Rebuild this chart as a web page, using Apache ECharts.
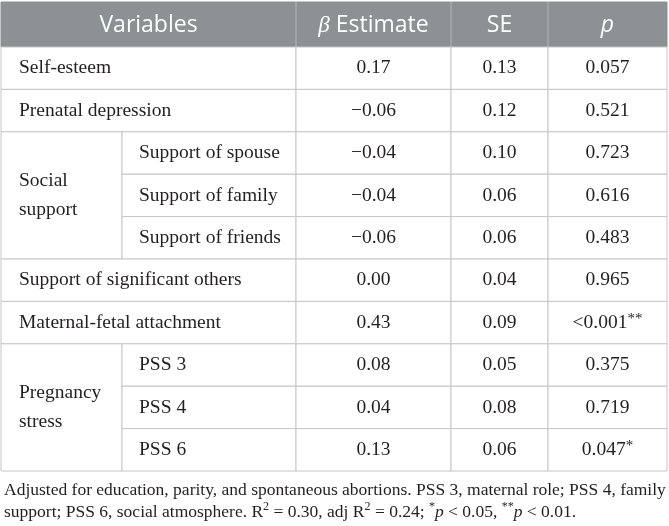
<!DOCTYPE html>
<html>
<head>
<meta charset="utf-8">
<script src="https://cdn.jsdelivr.net/npm/echarts@6/dist/echarts.min.js"></script>
<style>
html, body { margin: 0; padding: 0; background: #fff; }
#chart { width: 669px; height: 526px; }
</style>
</head>
<body>
<div id="chart"></div>
<script>
// table content
const headers = ['Variables', 'β Estimate', 'SE', 'p'];
const groups = ['', '', 'Social\nsupport', 'Social\nsupport', 'Social\nsupport', '', '', 'Pregnancy\nstress', 'Pregnancy\nstress', 'Pregnancy\nstress'];
const labels = ['Self-esteem', 'Prenatal depression', 'Support of spouse', 'Support of family', 'Support of friends',
  'Support of significant others', 'Maternal-fetal attachment', 'PSS 3', 'PSS 4', 'PSS 6'];
const estimates = [0.17, -0.06, -0.04, -0.04, -0.06, 0.00, 0.43, 0.08, 0.04, 0.13];
const ses = [0.13, 0.12, 0.10, 0.06, 0.06, 0.04, 0.09, 0.05, 0.08, 0.06];
const pValues = ['0.057', '0.521', '0.723', '0.616', '0.483', '0.965', '<0.001**', '0.375', '0.719', '0.047*'];

// layout (column edges in px along the hidden x axis)
const colEdges = [1, 122, 296, 451, 548, 667];
const lineColor = '#c6c6c6';
const headBg = '#8c9194';
const textColor = '#231f20';
const serif = '"Liberation Serif", "DejaVu Serif", serif';
const sans = '"Open Sans", "Noto Sans", sans-serif';
const bodySize = 19.5;
const padLeft = 18;

const fmt = v => (v < 0 ? '\u2212' : '') + Math.abs(v).toFixed(2);

function cellRect(x0, x1, y0, h, fill, stroke) {
  return {
    type: 'rect',
    shape: { x: x0, y: y0, width: x1 - x0, height: h },
    style: { fill: fill, stroke: stroke, lineWidth: 1 }
  };
}

function cellText(x, y, text, align, extra) {
  return {
    type: 'text',
    style: Object.assign({
      x: x, y: y, text: text, align: align, verticalAlign: 'middle',
      font: bodySize + 'px ' + serif, fill: textColor
    }, extra || {})
  };
}

function renderHeader(params, api) {
  const h = api.size([0, 1])[1];
  const cy = api.coord([0, 0])[1];
  const top = cy - h / 2;
  const x = e => api.coord([e, 0])[0];
  const kids = [];
  const spans = [[0, 2], [2, 3], [3, 4], [4, 5]];
  kids.push(cellRect(x(colEdges[0]), x(colEdges[5]), top, h, headBg, headBg));
  spans.forEach((s, k) => {
    const x0 = x(colEdges[s[0]]), x1 = x(colEdges[s[1]]);
    if (k > 0) {
      kids.push({ type: 'line', shape: { x1: x0, y1: top, x2: x0, y2: top + h },
        style: { stroke: '#b4b7b9', lineWidth: 1 } });
    }
    let txt = headers[k];
    if (k === 1) txt = '{b|β} Estimate';
    if (k === 3) txt = '{i|p}';
    kids.push({
      type: 'text',
      style: {
        x: (x0 + x1) / 2, y: cy + 1, text: txt, align: 'center', verticalAlign: 'middle',
        font: '23px ' + sans, fill: '#fff',
        rich: {
          b: { fontFamily: serif, fontStyle: 'italic', fontSize: 23, fill: '#fff' },
          i: { fontFamily: sans, fontStyle: 'italic', fontSize: 23, fill: '#fff' }
        }
      }
    });
  });
  return { type: 'group', children: kids };
}

function renderRow(params, api) {
  const i = params.dataIndex;
  const h = api.size([0, 1])[1];
  const cy = api.coord([0, i])[1];
  const top = cy - h / 2;
  const x = e => api.coord([e, i])[0];
  const kids = [];
  const g = groups[i];
  if (g) {
    if (i === 0 || groups[i - 1] !== g) {
      let span = 0;
      while (groups[i + span] === g) span++;
      kids.push(cellRect(x(colEdges[0]), x(colEdges[1]), top, h * span, '#fff', lineColor));
      kids.push(cellText(x(colEdges[0]) + padLeft, top + h * span / 2, g, 'left', { lineHeight: 29 }));
    }
    kids.push(cellRect(x(colEdges[1]), x(colEdges[2]), top, h, '#fff', lineColor));
    kids.push(cellText(x(colEdges[1]) + padLeft - 1, cy, labels[i], 'left'));
  } else {
    kids.push(cellRect(x(colEdges[0]), x(colEdges[2]), top, h, '#fff', lineColor));
    kids.push(cellText(x(colEdges[0]) + padLeft, cy, labels[i], 'left'));
  }
  const vals = [fmt(estimates[i]), ses[i].toFixed(2), pValues[i]];
  vals.forEach((v, k) => {
    const x0 = x(colEdges[k + 2]), x1 = x(colEdges[k + 3]);
    kids.push(cellRect(x0, x1, top, h, '#fff', lineColor));
    let txt = v;
    const m = v.match(/^(.*?)(\*+)$/);
    if (m) txt = m[1] + '{s|' + m[2] + '}';
    kids.push(cellText((x0 + x1) / 2, cy, txt, 'center', {
      rich: { s: { fontFamily: serif, fontSize: 15, fill: textColor, verticalAlign: 'top', padding: [0, 0, 7, 0] } }
    }));
  });
  return { type: 'group', children: kids };
}

const chart = echarts.init(document.getElementById('chart'), null, { renderer: 'canvas' });
chart.setOption({
  animation: false,
  backgroundColor: '#fff',
  grid: [
    { left: 0, right: 0, top: 2, height: 45 },
    { left: 0, right: 0, top: 47, height: 424 }
  ],
  xAxis: [
    { type: 'value', gridIndex: 0, min: 0, max: 669, show: false },
    { type: 'value', gridIndex: 1, min: 0, max: 669, show: false }
  ],
  yAxis: [
    { type: 'category', gridIndex: 0, data: ['header'], show: false },
    { type: 'category', gridIndex: 1, data: labels, inverse: true, show: false }
  ],
  graphic: [{
    type: 'text',
    left: 4,
    top: 479,
    style: {
      text: 'Adjusted for education, parity, and spontaneous abortions. PSS 3, maternal role; PSS 4, family\n' +
        'support; PSS 6, social atmosphere. R{sup|2} = 0.30, adj R{sup|2} = 0.24; {sup|*}{i|p} < 0.05, {sup|**}{i|p} < 0.01.',
      font: '17.5px ' + serif,
      fill: textColor,
      lineHeight: 22,
      rich: {
        sup: { fontFamily: serif, fontSize: 12, fill: textColor, verticalAlign: 'top', padding: [0, 0, 6, 0] },
        i: { fontFamily: serif, fontStyle: 'italic', fontSize: 17.5, fill: textColor }
      }
    }
  }],
  series: [
    {
      type: 'custom', xAxisIndex: 0, yAxisIndex: 0,
      data: [[0, 0]], renderItem: renderHeader, silent: true
    },
    {
      type: 'custom', xAxisIndex: 1, yAxisIndex: 1,
      data: labels.map((l, i) => [0, i]), renderItem: renderRow, silent: true
    }
  ]
});
</script>
</body>
</html>
